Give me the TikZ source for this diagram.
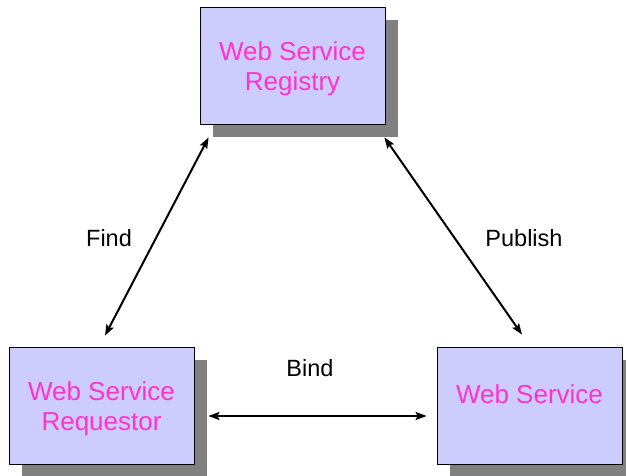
\documentclass[tikz,border=0pt]{standalone}
\usepackage{fontspec}
\setmainfont{Liberation Sans}
\usepackage{tikz}
\usetikzlibrary{shadows,arrows.meta}

\definecolor{boxfill}{RGB}{204,204,255}
\definecolor{boxtext}{RGB}{255,51,204}
\definecolor{shadowgray}{RGB}{128,128,128}

\newcommand{\boxstrut}{\rule{0pt}{26pt}}

\tikzset{
	service/.style={draw=black, line width=0.8pt, fill=boxfill, text=boxtext,
		minimum width=185pt, minimum height=117pt, inner sep=0pt,
		align=center, font=\fontsize{26}{30}\selectfont,
		drop shadow={shadow xshift=13pt, shadow yshift=-13pt, fill=shadowgray, opacity=1}},
	link/.style={line width=2pt, {Stealth[length=11pt,width=8pt,inset=2pt]}-{Stealth[length=11pt,width=8pt,inset=2pt]}},
	linklabel/.style={font=\fontsize{23.5}{28}\selectfont}
}

\begin{document}
\begin{tikzpicture}[x=1pt, y=-1pt]
		\useasboundingbox (0, 0) rectangle (626, 476);

		\node [service] (reg) at (292.5, 65.5) {\boxstrut Web Service\\Registry};
		\node [service] (req) at (101.5, 405.5) {\boxstrut Web Service\\Requestor};
		\node [service] (ws) at (529.5, 405.5) {\boxstrut Web Service\\~};

		\draw [link] ([xshift=9pt, yshift=-13pt]reg.south west) -- ([xshift=3.5pt, yshift=11pt]req.north);
		\draw [link] ([xshift=-1pt, yshift=-13pt]reg.south east) -- ([xshift=-7.5pt, yshift=12pt]ws.north);
		\draw [link] ([xshift=14pt, yshift=-10.5pt]req.east) -- ([xshift=-10pt, yshift=-10.5pt]ws.west);

		\node [linklabel] (find) at (109, 238) {Find};
		\node [linklabel] (publish) at (524, 238) {Publish};
		\node [linklabel] (bind) at (310, 368) {Bind};

	\end{tikzpicture}
\end{document}
